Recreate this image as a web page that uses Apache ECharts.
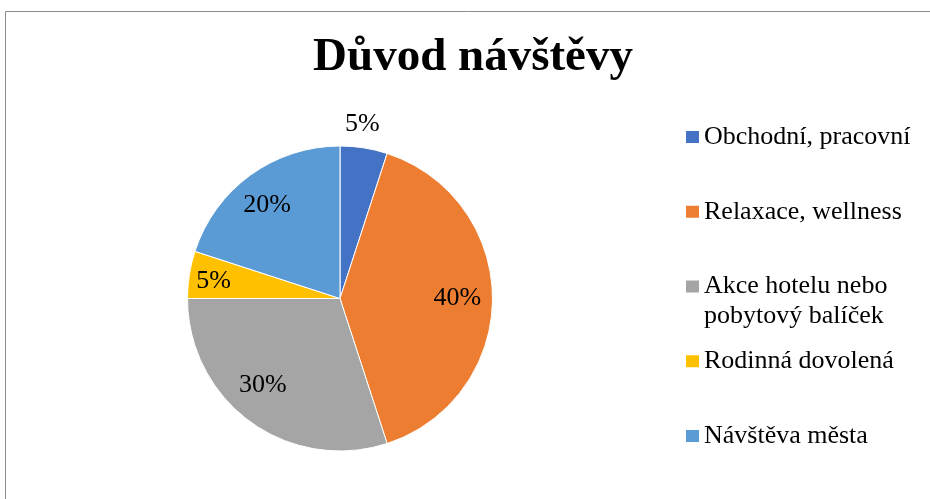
<!DOCTYPE html>
<html><head><meta charset="utf-8">
<script src="https://cdn.jsdelivr.net/npm/echarts@6/dist/echarts.min.js"></script>
<style>html,body{margin:0;padding:0;background:#fff}#c{width:930px;height:499px}</style>
</head><body><div id="c"></div>
<script>
// ---- data ----
const titleText = 'Důvod návštěvy';
const categories = ['Obchodní, pracovní', 'Relaxace, wellness', 'Akce hotelu nebo pobytový balíček', 'Rodinná dovolená', 'Návštěva města'];
const legendLabels = ['Obchodní, pracovní', 'Relaxace, wellness', 'Akce hotelu nebo\npobytový balíček', 'Rodinná dovolená', 'Návštěva města'];
const values = [5, 40, 30, 5, 20];

// ---- style / layout ----
const colors = ['#4472C4', '#ED7D31', '#A5A5A5', '#FFC000', '#5B9BD5'];
const FONT = 'Liberation Serif, Times New Roman, serif';
const CX = 340, CY = 298.5, R = 152.5;
const labelRing = [1.13, 0.75, 0.74, 0.82, 0.75]; // label distance as fraction of radius
const labelNudge = [[-5, -1], [0, 0], [-9, -7], [0, 3], [-4, 2]]; // best-fit offsets
const LEG_X = 686, LEG_Y0 = 137, LEG_STEP = 74.75, LEG_LH = 30;

const chart = echarts.init(document.getElementById('c'), null, {renderer: 'canvas'});

const mainData = categories.map((n, i) => ({name: n, value: values[i], itemStyle: {color: colors[i]}}));

const series = [{
  type: 'pie', center: [CX, CY], radius: R, startAngle: 90, clockwise: true,
  data: mainData, label: {show: false}, labelLine: {show: false},
  itemStyle: {borderColor: '#fff', borderWidth: 1},
  silent: true, animation: false
}];

const rings = [...new Set(labelRing)];
rings.forEach(f => {
  series.push({
    type: 'pie', center: [CX, CY], radius: 2 * f * R, startAngle: 90, clockwise: true,
    silent: true, animation: false,
    itemStyle: {color: 'rgba(0,0,0,0)', borderWidth: 0},
    labelLine: {show: false},
    label: {show: true, position: 'inside', formatter: '{d}%', color: '#000', fontFamily: FONT, fontSize: 26},
    labelLayout: p => ({dx: labelNudge[p.dataIndex][0], dy: labelNudge[p.dataIndex][1]}),
    data: categories.map((n, i) => ({name: n, value: values[i], label: {show: labelRing[i] === f}}))
  });
});

const legends = categories.map((n, i) => {
  const lines = legendLabels[i].split('\n').length;
  // extra empty lines on top keep the first text line level with the icon
  const pad = '\n'.repeat(lines - 1);
  const totalLines = 2 * lines - 1;
  return {
    data: [n], orient: 'vertical', left: LEG_X,
    top: LEG_Y0 + LEG_STEP * i - totalLines * LEG_LH / 2,
    padding: 0, itemWidth: 13, itemHeight: 12, icon: 'rect', itemGap: 0,
    itemStyle: {borderWidth: 0}, selectedMode: false,
    formatter: () => pad + legendLabels[i],
    textStyle: {fontFamily: FONT, fontSize: 26, color: '#000', lineHeight: LEG_LH}
  };
});

chart.setOption({
  animation: false,
  backgroundColor: '#fff',
  title: {
    text: titleText, left: 473, top: 34, textAlign: 'center', padding: 0,
    textStyle: {fontFamily: FONT, fontWeight: 'bold', fontSize: 47, color: '#000', lineHeight: 47}
  },
  graphic: [{
    type: 'rect', silent: true, z: -1,
    shape: {x: 5.5, y: 11.5, width: 1000, height: 1000},
    style: {fill: 'none', stroke: '#8c8c8c', lineWidth: 1}
  }],
  legend: legends,
  series: series
});
</script></body></html>
